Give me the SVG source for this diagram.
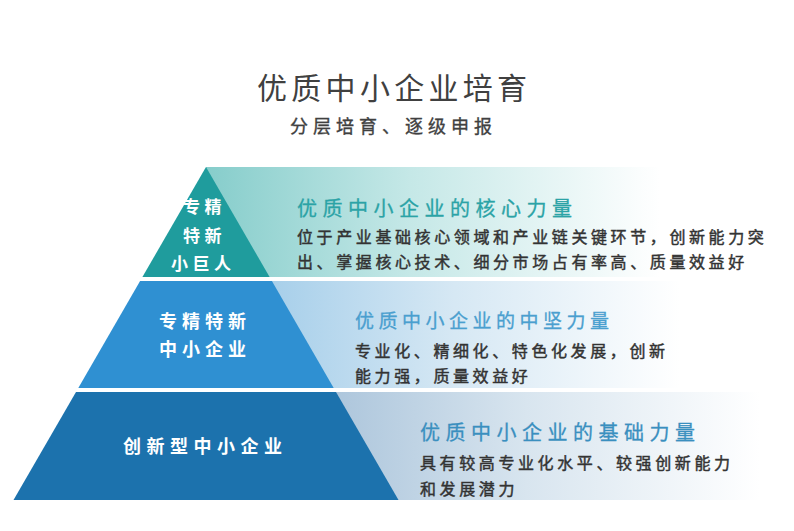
<svg xmlns="http://www.w3.org/2000/svg" width="794" height="531" viewBox="0 0 794 531">
<defs>
<linearGradient id="g1" x1="206" y1="0" x2="660" y2="0" gradientUnits="userSpaceOnUse">
<stop offset="0" stop-color="#86cdcb"/><stop offset="0.45" stop-color="#c5e8e7"/><stop offset="1" stop-color="#ffffff"/>
</linearGradient>
<linearGradient id="g2" x1="270" y1="0" x2="680" y2="0" gradientUnits="userSpaceOnUse">
<stop offset="0" stop-color="#a7cfea"/><stop offset="0.45" stop-color="#d6e8f4"/><stop offset="1" stop-color="#ffffff"/>
</linearGradient>
<linearGradient id="g3" x1="335" y1="0" x2="760" y2="0" gradientUnits="userSpaceOnUse">
<stop offset="0" stop-color="#adc6dc"/><stop offset="0.45" stop-color="#d8e5ef"/><stop offset="1" stop-color="#ffffff"/>
</linearGradient>
<style>
.cjk{font-family:"Noto Sans CJK SC","Noto Sans",sans-serif}
.lbl{fill:#ffffff;font-weight:bold}
.body{fill:#333333;stroke:#333333;stroke-width:0.45px;font-size:16px;letter-spacing:3.6px}
.h1{font-size:20px;letter-spacing:5.5px;stroke-width:0.3px}
</style>
</defs>
<rect width="794" height="531" fill="#ffffff"/>
<g id="title" class="cjk">
<text x="257" y="99" font-size="30" letter-spacing="4.3" fill="#404040">优质中小企业培育</text>
<text x="290" y="133" font-size="18" letter-spacing="5" fill="#404040" stroke="#404040" stroke-width="0.35">分层培育、逐级申报</text>
</g>
<g id="bands">
<rect x="206" y="167" width="588" height="110" fill="url(#g1)"/>
<rect x="206" y="281" width="588" height="107" fill="url(#g2)"/>
<rect x="206" y="392" width="588" height="108" fill="url(#g3)"/>
</g>
<g id="tier1" class="cjk">
<polygon points="206,167 269.6,277 142.4,277" fill="#1f9c9d"/>
<text class="lbl" x="183" y="213" font-size="17" letter-spacing="4.5">专精</text>
<text class="lbl" x="183" y="242" font-size="17" letter-spacing="4.5">特新</text>
<text class="lbl" x="171" y="270" font-size="17" letter-spacing="4.5">小巨人</text>
<text class="h1" x="297" y="216" fill="#2ba3a6" stroke="#2ba3a6">优质中小企业的核心力量</text>
<text class="body" x="297" y="243">位于产业基础核心领域和产业链关键环节，创新能力突</text>
<text class="body" x="297" y="268">出、掌握核心技术、细分市场占有率高、质量效益好</text>
</g>
<g id="tier2" class="cjk">
<polygon points="140.1,281 271.9,281 333.7,388 78.3,388" fill="#2f90d2"/>
<text class="lbl" x="159" y="328" font-size="18" letter-spacing="5">专精特新</text>
<text class="lbl" x="159" y="356" font-size="18" letter-spacing="5">中小企业</text>
<text x="355" y="328" font-size="19" letter-spacing="4.5" fill="#4a9fcf" stroke="#4a9fcf" stroke-width="0.3">优质中小企业的中坚力量</text>
<text class="body" x="355" y="357">专业化、精细化、特色化发展，创新</text>
<text class="body" x="355" y="382">能力强，质量效益好</text>
</g>
<g id="tier3" class="cjk">
<polygon points="76,392 336,392 398.5,500 13.5,500" fill="#1c72ad"/>
<text class="lbl" x="123" y="453" font-size="18" letter-spacing="5.5">创新型中小企业</text>
<text class="h1" x="420" y="440" fill="#3a8fbf" stroke="#3a8fbf">优质中小企业的基础力量</text>
<text class="body" x="420" y="469">具有较高专业化水平、较强创新能力</text>
<text class="body" x="420" y="495">和发展潜力</text>
</g>
<g id="connectors"/>
</svg>
